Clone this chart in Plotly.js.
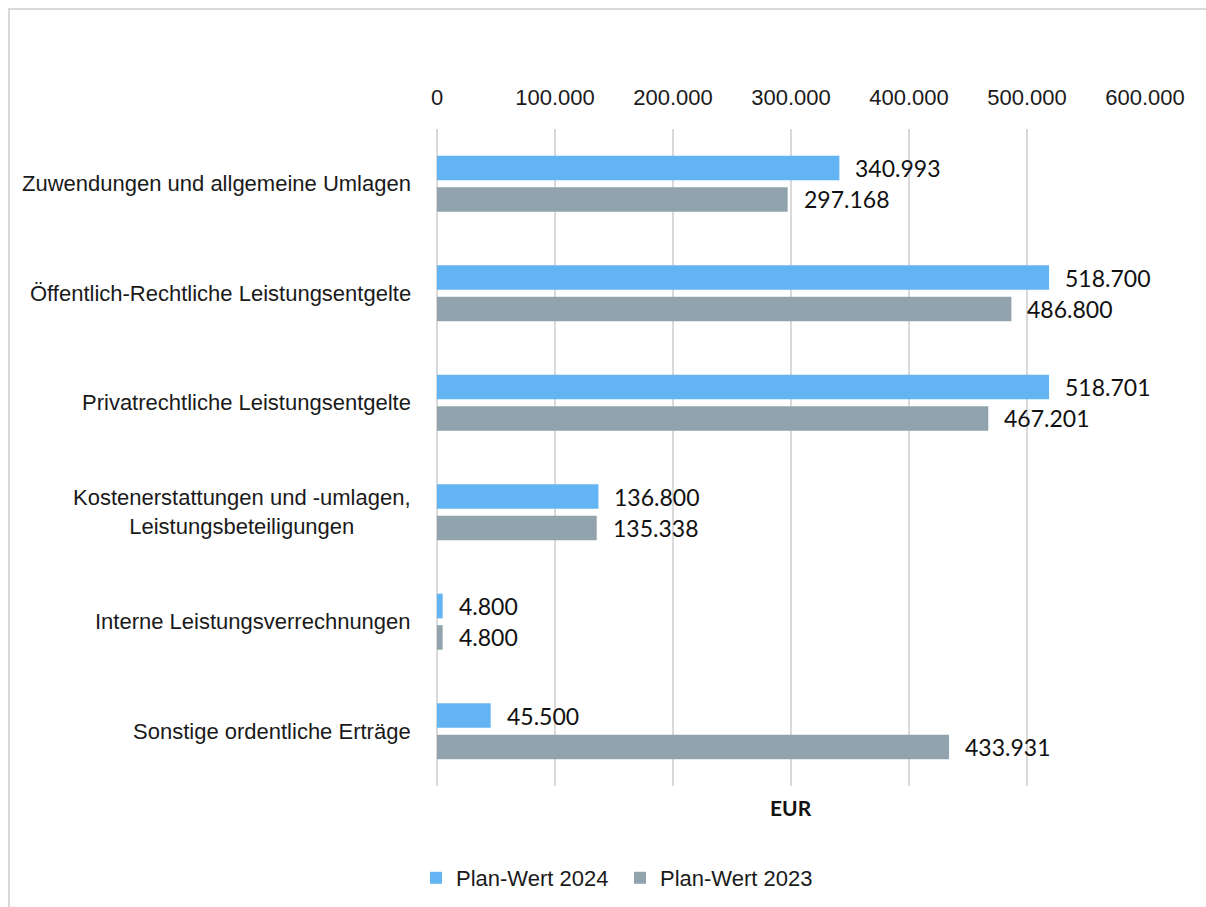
<!DOCTYPE html>
<html>
<head>
<meta charset="utf-8">
<script src="https://cdn.plot.ly/plotly-3.0.1.min.js"></script>
<style>
  html, body { margin: 0; padding: 0; background: #ffffff; overflow: hidden; }
  #chart { position: absolute; left: 0; top: 0; width: 1206px; height: 907px; }
  #frame { position: absolute; left: 8px; top: 8px; width: 1300px; height: 1000px;
           border: 2px solid #d9d9d9; pointer-events: none; }
</style>
</head>
<body>
<div id="chart"></div>
<div id="frame"></div>
<script>
// ---- data ----
const categories = [
  "Zuwendungen und allgemeine Umlagen",
  "Öffentlich-Rechtliche Leistungsentgelte",
  "Privatrechtliche Leistungsentgelte",
  "Kostenerstattungen und -umlagen,<br>Leistungsbeteiligungen",
  "Interne Leistungsverrechnungen",
  "Sonstige ordentliche Erträge"
];
const seriesNames = ["Plan-Wert 2024", "Plan-Wert 2023"];
const plan2024 = [340993, 518700, 518701, 136800, 4800, 45500];
const plan2023 = [297168, 486800, 467201, 135338, 4800, 433931];
const xTickVals = [0, 100000, 200000, 300000, 400000, 500000, 600000];
const xTickText = ["0", "100.000", "200.000", "300.000", "400.000", "500.000", "600.000"];
const axisTitle = "EUR";

// ---- styling ----
const colors = ["#63b4f3", "#91a4ad"];
const labelFont = "Liberation Sans, Arial, sans-serif";
const valueFont = "Lato, Carlito, Calibri, sans-serif";

function fmt(v) {
  return String(v).replace(/\B(?=(\d{3})+(?!\d))/g, ".");
}

const M = { l: 437, r: 61, t: 129, b: 121 };
const plotH = 907 - M.t - M.b;
const band = plotH / categories.length;
const bargap = 0.425, bargroupgap = 0.22;
const slot = band * (1 - bargap) / 2;
const yOff = slot / 2;

const allSeries = [plan2024, plan2023];
const traces = allSeries.map((vals, i) => ({
  type: "bar",
  orientation: "h",
  name: seriesNames[i],
  x: vals,
  y: categories,
  marker: { color: colors[i] },
  hoverinfo: "none"
}));

const annotations = [];
// category labels (centered multi-line)
categories.forEach(c => {
  annotations.push({
    xref: "paper", yref: "y", x: 0, y: c, xanchor: "right", yanchor: "middle",
    xshift: -24, text: c, showarrow: false, align: "center",
    font: { family: labelFont, size: 22, color: "#1a1a1a" }
  });
});
// value labels
allSeries.forEach((vals, i) => {
  vals.forEach((v, j) => {
    annotations.push({
      xref: "x", yref: "y", x: v, y: categories[j], xanchor: "left", yanchor: "middle",
      xshift: 14, yshift: i === 0 ? yOff : -yOff,
      text: fmt(v), showarrow: false,
      font: { family: valueFont, size: 23, color: "#111111" }
    });
  });
});
// axis title below plot
annotations.push({
  xref: "paper", yref: "paper", x: 0.5, y: -22 / plotH, xanchor: "center", yanchor: "middle",
  text: "<b>" + axisTitle + "</b>", showarrow: false,
  font: { family: valueFont, size: 21, color: "#111111" }
});

const layout = {
  width: 1206, height: 907,
  margin: M,
  paper_bgcolor: "#ffffff", plot_bgcolor: "#ffffff",
  separators: ",.",
  barmode: "group",
  bargap: bargap, bargroupgap: bargroupgap,
  showlegend: true,
  legend: {
    orientation: "h",
    xref: "container", yref: "container",
    x: 416 / 1206, xanchor: "left",
    y: 1 - 878 / 907, yanchor: "middle",
    font: { family: labelFont, size: 22, color: "#1a1a1a" },
    entrywidth: 159,
    itemclick: false, itemdoubleclick: false
  },
  xaxis: {
    side: "top",
    range: [0, 600000],
    tickvals: xTickVals, ticktext: xTickText,
    showgrid: true, gridcolor: "#d9d9d9", gridwidth: 2,
    zeroline: true, zerolinecolor: "#d9d9d9", zerolinewidth: 2,
    showline: false, ticks: "",
    ticklabelstandoff: 19,
    tickfont: { family: labelFont, size: 22, color: "#1a1a1a" },
    fixedrange: true
  },
  yaxis: {
    type: "category",
    autorange: "reversed",
    showticklabels: false, showgrid: false, zeroline: false, showline: false, ticks: "",
    fixedrange: true
  },
  annotations: annotations
};

Plotly.newPlot("chart", traces, layout, { displayModeBar: false, staticPlot: true });
</script>
</body>
</html>
